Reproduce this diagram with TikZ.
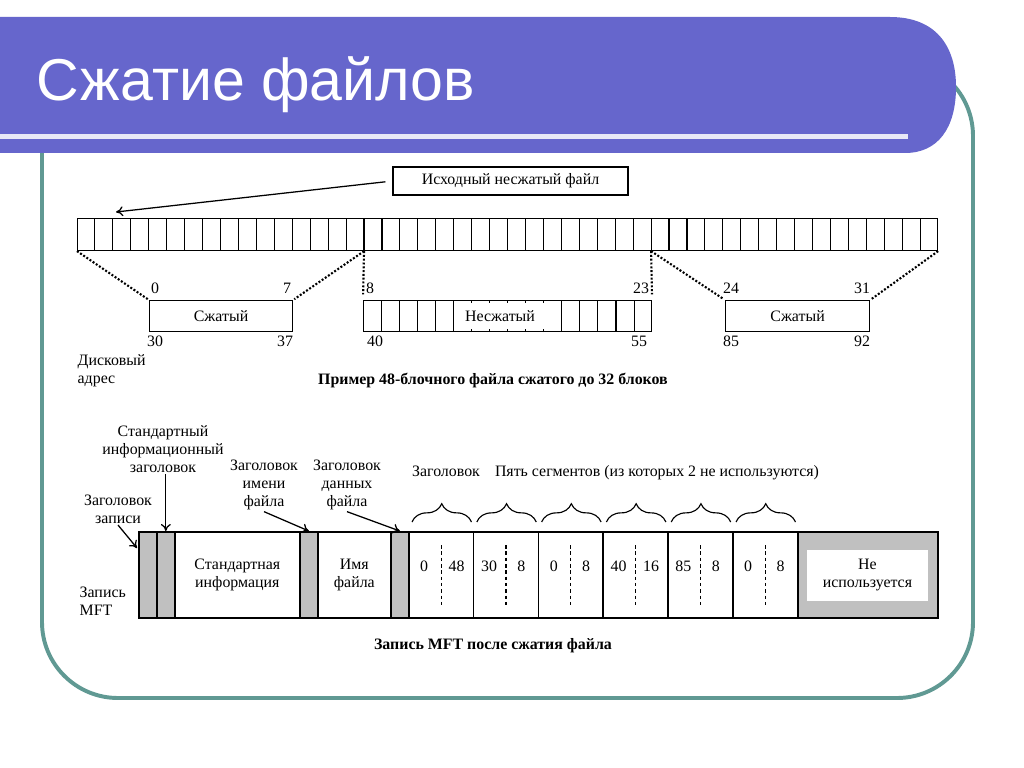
\documentclass[tikz,border=0pt]{standalone}
\usepackage{fontspec}
\setmainfont{Liberation Serif}
\newfontfamily\titlefont{Liberation Sans}
\usetikzlibrary{calc,arrows.meta,decorations.pathreplacing}

\definecolor{barblue}{RGB}{102,102,204}
\definecolor{barline}{RGB}{232,232,246}
\definecolor{frameteal}{RGB}{96,153,147}
\definecolor{hdrgray}{RGB}{192,192,192}

\newcommand{\px}{0.025cm}

\tikzset{
  blk/.style={draw, line width=0.8pt, inner sep=0pt},
  hdr/.style={draw, line width=1.2pt, fill=hdrgray, inner sep=0pt,
    minimum height=86*\px, anchor=north west},
  fld/.style={draw, line width=1.2pt, fill=white, inner sep=0pt,
    minimum height=86*\px, anchor=north west, align=center},
  lbl/.style={align=center, inner sep=1pt},
  captxt/.style={font=\bfseries\fontsize{11.3}{12.8}\selectfont},
  link/.style={line width=1.5pt, dash pattern=on 1.4pt off 1.3pt},
  arr/.style={-{To[length=5pt,width=7pt]}, line width=0.9pt},
  brc/.style={decorate, decoration={brace, amplitude=13pt, aspect=0.5},
    line width=0.8pt},
}

\begin{document}
\begin{tikzpicture}[x=0.025cm, y=-0.025cm, font=\fontsize{11.3}{12.8}\selectfont]
\useasboundingbox (0,0) rectangle (1024,768);
\fill[white] (0,0) rectangle (1024,768);

\draw[frameteal, line width=2.8pt, rounded corners=54pt] (42,60) rectangle (973,698);
\fill[barblue] (0,17) -- (890,17) .. controls (935,17) and (956,45) .. (956,87)
  .. controls (956,128) and (938,153) .. (905,153) -- (0,153) -- cycle;
\fill[barline] (0,134) rectangle (908,139);
\node[text=white, font=\titlefont\fontsize{42}{50}\selectfont, anchor=base west]
  (title) at (32,101) {Сжатие файлов};

% original file
\node[blk, minimum width=235*\px, minimum height=28*\px] (src) at (510.5,181)
  {Исходный несжатый файл};
\coordinate (tip) at (116,212);
\draw[arr, shorten <=5pt] (src.west) -- (tip);

\node[blk, minimum width=860*\px, minimum height=32*\px, anchor=north west]
  (strip) at (77,218) {};
\foreach \i in {1,...,47}
  \draw[line width=0.8pt] ($(strip.north west)!\i/48!(strip.north east)$)
    -- ($(strip.south west)!\i/48!(strip.south east)$);
\coordinate (s16) at ($(strip.south west)!16/48!(strip.south east)$);
\coordinate (s32) at ($(strip.south west)!32/48!(strip.south east)$);

% disk runs
\node[blk, minimum width=143*\px, minimum height=31*\px, anchor=north west]
  (compA) at (149,300) {Сжатый};
\node[blk, minimum width=288*\px, minimum height=31*\px, anchor=north west]
  (unc) at (363,300) {};
\foreach \i in {1,2,3,4,5,11,12,13,14,15}
  \draw[line width=0.8pt] ($(unc.north west)!\i/16!(unc.north east)$)
    -- ($(unc.south west)!\i/16!(unc.south east)$);
\foreach \i in {6,...,10} {
  \draw[line width=0.8pt] ($(unc.north west)!\i/16!(unc.north east)$) -- ++(0,3);
  \draw[line width=0.8pt] ($(unc.south west)!\i/16!(unc.south east)$) -- ++(0,-3);
}
\node (unctxt) at (500,316) {Несжатый};
\node[blk, minimum width=144*\px, minimum height=31*\px, anchor=north west]
  (compC) at (725,300) {Сжатый};

\draw[link, shorten >=1pt] (strip.south west) -- (compA.north west);
\draw[link, shorten >=1pt] (s16) -- (compA.north east);
\draw[link, shorten >=4pt] (s16) -- (unc.north west);
\draw[link, shorten >=4pt] (s32) -- (unc.north east);
\draw[link, shorten >=1pt] (s32) -- (compC.north west);
\draw[link, shorten >=1pt] (strip.south east) -- (compC.north east);

\node[anchor=base] (n0) at (155,293) {0};
\node[anchor=base] (n7) at (287,293) {7};
\node[anchor=base] (n8) at (370,293) {8};
\node[anchor=base] (n23) at (641,293) {23};
\node[anchor=base] (n24) at (731,293) {24};
\node[anchor=base] (n31) at (862,293) {31};
\node[anchor=base] (n30) at (155,346) {30};
\node[anchor=base] (n37) at (285,346) {37};
\node[anchor=base] (n40) at (375,346) {40};
\node[anchor=base] (n55) at (639,346) {55};
\node[anchor=base] (n85) at (731,346) {85};
\node[anchor=base] (n92) at (862,346) {92};

\node[lbl, align=left, anchor=west] (addr) at (76,371) {Дисковый\\адрес};
\node[captxt] (capA) at (493,380) {Пример 48-блочного файла сжатого до 32 блоков};

% MFT record
\node[hdr, minimum width=18*\px] (rh) at (138,531) {};
\node[hdr, minimum width=18*\px] (sih) at (156,531) {};
\node[fld, minimum width=125*\px] (si) at (174,531) {Стандартная\\информация};
\node[hdr, minimum width=18*\px] (fnh) at (299,531) {};
\node[fld, minimum width=73*\px] (fn) at (317,531) {Имя\\файла};
\node[hdr, minimum width=18*\px] (dh) at (390,531) {};
\foreach \a/\b [count=\k] in {0/48, 30/8, 0/8, 40/16, 85/8, 0/8} {
  \pgfmathsetmacro\sx{408+(\k-1)*64.8}
  \node[fld, minimum width=64.8*\px] (seg\k) at (\sx,531) {};
  \draw[line width=0.8pt, dash pattern=on 2.5pt off 2pt]
    ($(seg\k.north)+(0,14)$) -- ($(seg\k.south)+(0,-14)$);
  \node[anchor=base] (segl\k) at (\sx+16.2,571) {\a};
  \node[anchor=base] (segr\k) at (\sx+48.6,571) {\b};
  \draw[brc] ($(seg\k.north west)+(4,-9)$) -- ($(seg\k.north east)+(-3,-9)$);
}
\node[hdr, minimum width=140*\px] (nu) at (796.8,531) {};
\node[fill=white, inner sep=0pt, minimum width=121*\px, minimum height=51*\px,
  align=center] (nutxt) at (867.5,575.5) {Не\\используется};

\node[lbl] (sihlbl) at (163,449) {Стандартный\\информационный\\заголовок};
\node[lbl] (rhlbl) at (118,509) {Заголовок\\записи};
\node[lbl] (fnlbl) at (264,485) {Заголовок\\имени\\файла};
\node[lbl] (dlbl) at (347,485) {Заголовок\\данных\\файла};
\node[lbl, anchor=base] (seghdr) at (446,476) {Заголовок};
\node[lbl, anchor=base] (segtxt) at (657,476) {Пять сегментов (из которых 2 не используются)};

\draw[arr] (sihlbl.south -| sih.north) -- (sih.north);
\draw[arr] (rhlbl.south) -- ($(rh.north west)+(-1,17)$);
\draw[arr] (fnlbl.south) -- (fnh.north);
\draw[arr] (dlbl.south) -- (dh.north);

\node[lbl, align=left, anchor=west] (mftlbl) at (78,601) {Запись\\MFT};
\node[captxt] (capB) at (493,646) {Запись MFT после сжатия файла};
\end{tikzpicture}
\end{document}
